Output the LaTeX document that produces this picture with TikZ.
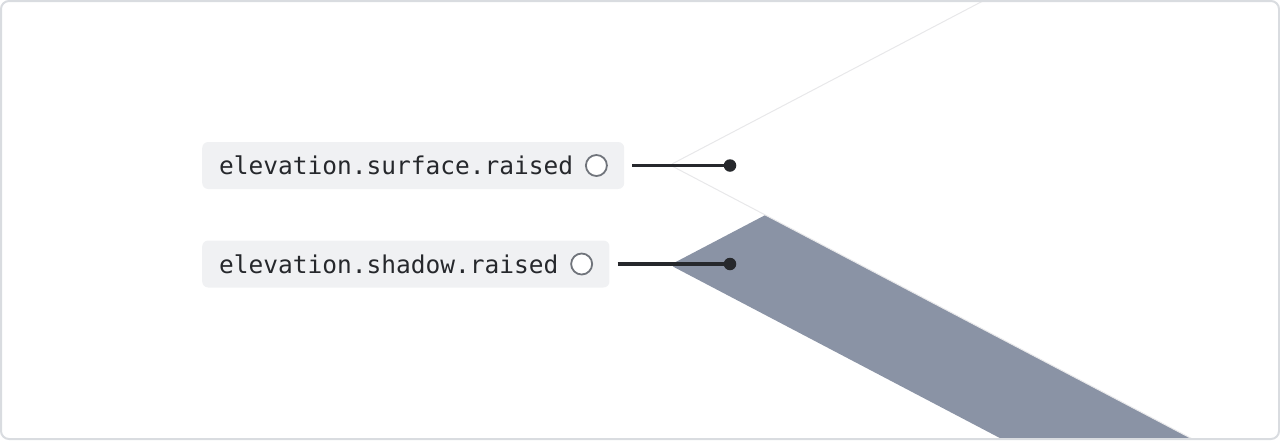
\documentclass[tikz,border=0pt]{standalone}
\usepackage{fontspec}
\setmonofont{DejaVu Sans Mono}
\usetikzlibrary{positioning}
\definecolor{ink}{HTML}{26282C}
\definecolor{chip}{HTML}{F0F1F3}
\definecolor{frame}{HTML}{D9DCE0}
\definecolor{platebelow}{HTML}{8A93A5}
\definecolor{platerim}{HTML}{E8E8EA}
\definecolor{ringgray}{HTML}{70747B}
\tikzset{
	tag/.style={fill=chip, rounded corners=6pt, anchor=west, inner xsep=17pt, inner ysep=0pt, minimum height=47pt, text=ink, font=\fontsize{24.5}{26}\selectfont\ttfamily},
	ring/.style={circle, draw=ringgray, fill=white, line width=1.8pt, minimum size=21pt, inner sep=0pt},
	pin/.style={circle, fill=ink, minimum size=12.5pt, inner sep=0pt},
	lead/.style={draw=ink, line width=3.4pt}
}

\begin{document}
\begin{tikzpicture}[x=1pt, y=-1pt]
			%%%%% START %%%%%
			\useasboundingbox (0, 0) rectangle (1280, 440);
			
			\begin{scope}
				\clip[rounded corners=8pt] (1, 1) rectangle (1279, 439);
				% shadow plate
				\fill[platebelow, rounded corners=4pt] (670, 265) -- (1000, 92) -- (1500, 92) -- (1500, 560) -- (1200, 543) -- cycle;
				% surface plate
				\draw[platerim, fill=white, line width=1pt, rounded corners=3pt] (670, 165) -- (1000, -8) -- (1500, -8) -- (1500, 460) -- (1200, 443) -- cycle;
			\end{scope}
			
			\draw[frame, line width=2pt, rounded corners=8pt] (1, 1) rectangle (1279, 439);
			
			% labels
			\node[tag] (surf) at (202, 165.5) {elevation.surface.raised\kern34pt};
			\node[ring] (surfring) at ([xshift=-28pt]surf.east) {};
			\node[pin] (surfdot) at (730, 165.5) {};
			\draw[lead] ([xshift=8pt]surf.east) -- (surfdot);
			
			\node[tag] (shad) at (202, 264) {elevation.shadow.raised\kern34pt};
			\node[ring] (shadring) at ([xshift=-28pt]shad.east) {};
			\node[pin] (shaddot) at (730, 264) {};
			\draw[lead] ([xshift=8pt]shad.east) -- (shaddot);
			
			%%%%% END %%%%%
		\end{tikzpicture}
\end{document}
